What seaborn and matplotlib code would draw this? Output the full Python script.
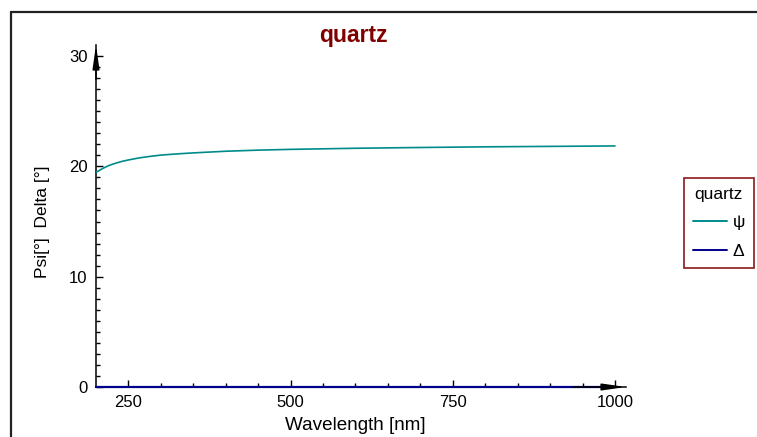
import numpy as np
import pandas as pd
import seaborn as sns
import matplotlib.pyplot as plt
from matplotlib.lines import Line2D
from matplotlib.ticker import FixedLocator

# Ellipsometric spectra of quartz
wavelength = [200, 210, 220, 230, 240, 250, 265, 280, 300, 325, 350, 400,
              450, 500, 600, 700, 800, 900, 1000]
psi = [19.45, 19.8, 20.08, 20.28, 20.45, 20.58, 20.75, 20.88, 21.02, 21.13,
       21.22, 21.37, 21.47, 21.54, 21.64, 21.71, 21.77, 21.81, 21.85]
delta = [0.0] * len(wavelength)

series_names = ["ψ", "Δ"]
series_colors = ["#008b8b", "#00008b"]
x_major = [250, 500, 750, 1000]
x_minor = [300, 350, 400, 450, 550, 600, 650, 700, 800, 850, 900, 950]
y_major = [0, 10, 20, 30]

sns.set_theme(style="white")
plt.rcParams["font.family"] = ["Liberation Sans", "DejaVu Sans"]

W, H = 757, 437
fig = plt.figure(figsize=(W / 100, H / 100), dpi=100)
ax = fig.add_axes([96 / W, 1 - 387 / H, 530 / W, 342 / H])

df_psi = pd.DataFrame({"Wavelength": wavelength, "value": psi})
df_delta = pd.DataFrame({"Wavelength": wavelength, "value": delta})
sns.lineplot(data=df_psi, x="Wavelength", y="value", color=series_colors[0],
             linewidth=1.2, ax=ax, zorder=4)
sns.lineplot(data=df_delta, x="Wavelength", y="value", color=series_colors[1],
             linewidth=1.6, ax=ax, zorder=5, clip_on=False)

ax.set_xlim(200, 1017)
ax.set_ylim(0, 31)

for side in ("top", "right"):
    ax.spines[side].set_visible(False)
for side in ("left", "bottom"):
    ax.spines[side].set_color("black")
    ax.spines[side].set_linewidth(1.1)

ax.xaxis.set_major_locator(FixedLocator(x_major))
ax.xaxis.set_minor_locator(FixedLocator(x_minor))
ax.yaxis.set_major_locator(FixedLocator(y_major))
ax.yaxis.set_minor_locator(FixedLocator([v for v in range(1, 31) if v % 10]))
ax.tick_params(which="both", direction="in", bottom=True, left=True,
               colors="black", labelcolor="black", width=1)
ax.tick_params(which="major", length=5, labelsize=12, pad=6)
ax.tick_params(which="minor", length=3)

# arrowheads on both axes
arrow = dict(arrowstyle="-|>,head_length=1.4,head_width=0.2", color="black",
             lw=1.1, shrinkA=0, shrinkB=0, mutation_scale=10)
ax.annotate("", xy=(1, 0), xytext=(0.9, 0), xycoords="axes fraction",
            arrowprops=arrow, annotation_clip=False, zorder=6)
ax.annotate("", xy=(0, 1), xytext=(0, 0.9), xycoords="axes fraction",
            arrowprops=arrow, annotation_clip=False, zorder=6)

ax.set_xlabel("Wavelength [nm]", fontsize=13.6, color="black")
ax.set_ylabel("Psi[°]  Delta [°]", fontsize=12.5, color="black")
cx = (355.5 - 96) / 530
ax.xaxis.set_label_coords(cx, (387 - 417) / 342)
ax.yaxis.set_label_coords((50 - 96) / 530, (387 - 221.5) / 342)

fig.text(353.5 / W, 1 - 41.7 / H, "quartz", ha="center", va="baseline",
         fontsize=16.5, fontweight="bold", color="#800000")

handles = [Line2D([], [], color=c, lw=1.4) for c in series_colors]
leg = ax.legend(handles, series_names, title="quartz", loc="upper left",
                bbox_to_anchor=(684 / W, 1 - 178 / H),
                bbox_transform=fig.transFigure, borderaxespad=0,
                frameon=True, fancybox=False, edgecolor="#8b1a1a",
                framealpha=1, fontsize=12.5, title_fontsize=12.5,
                handlelength=2.0, handletextpad=0.3, borderpad=0.5,
                labelspacing=0.78)
leg.get_title().set_color("black")
for t in leg.get_texts():
    t.set_color("black")
leg.get_frame().set_linewidth(1.2)

# outer frame around the plot area
frame_kw = dict(color="#222222", lw=1.6, transform=fig.transFigure)
fig.add_artist(Line2D([11 / W, 1.0], [1 - 12 / H, 1 - 12 / H], **frame_kw))
fig.add_artist(Line2D([11 / W, 11 / W], [1 - 12 / H, 0.0], **frame_kw))

fig.savefig("out.png", dpi=100)
